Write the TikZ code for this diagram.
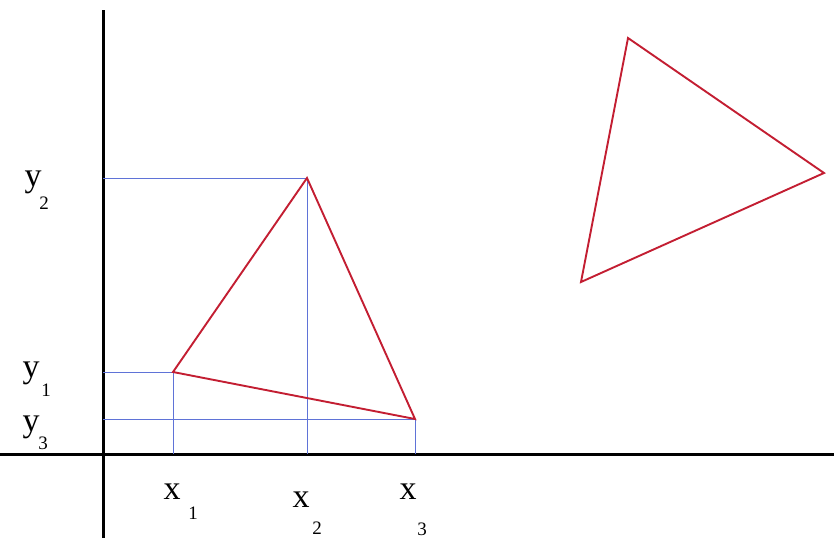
\documentclass[tikz,border=0pt]{standalone}
\usepackage{fontspec}
\setmainfont{Liberation Serif}
\definecolor{tri}{RGB}{195,30,50}
\definecolor{guide}{RGB}{95,115,215}
\tikzset{
  axis/.style={line width=3pt, black},
  guideline/.style={line width=0.9pt, guide},
  triline/.style={line width=1.9pt, tri, line join=miter},
  letter/.style={inner sep=0pt, anchor=base, font=\fontsize{34}{38}\selectfont},
  subs/.style={inner sep=0pt, anchor=base, font=\fontsize{19}{22}\selectfont},
}
\begin{document}
\begin{tikzpicture}[x=1pt, y=-1pt]
\useasboundingbox (0,0) rectangle (834,541);
% axes
\coordinate (xl) at (0,454);
\coordinate (xr) at (834,454);
\coordinate (yt) at (103,10);
\coordinate (yb) at (103,538);
\draw[axis] (xl) -- (xr);
\draw[axis] (yt) -- (yb);
% triangle 1 vertices
\coordinate (A) at (173,372);
\coordinate (B) at (307,178);
\coordinate (C) at (415,419);
% feet on axes
\coordinate (Ay) at (103,372);
\coordinate (By) at (103,178);
\coordinate (Cy) at (103,419);
\coordinate (Ax) at (173,454);
\coordinate (Bx) at (307,454);
\coordinate (Cx) at (415,454);
\draw[guideline] (Ay) -- (A) -- (Ax);
\draw[guideline] (By) -- (B) -- (Bx);
\draw[guideline] (Cy) -- (C) -- (Cx);
\draw[triline] (A) -- (B) -- (C) -- cycle;
% triangle 2
\coordinate (D) at (628,38);
\coordinate (E) at (824,173);
\coordinate (F) at (581,282);
\draw[triline] (D) -- (E) -- (F) -- cycle;
% labels
\node[letter] (lx1) at (172,499) {x};
\node[subs] (sx1) at (193,519) {1};
\node[letter] (lx2) at (301,507) {x};
\node[subs] (sx2) at (317,534) {2};
\node[letter] (lx3) at (408,499) {x};
\node[subs] (sx3) at (422,535) {3};
\node[letter] (ly2) at (33,186) {y};
\node[subs] (sy2) at (44,209) {2};
\node[letter] (ly1) at (31,377) {y};
\node[subs] (sy1) at (46,396) {1};
\node[letter] (ly3) at (31,431) {y};
\node[subs] (sy3) at (43,449) {3};
\end{tikzpicture}
\end{document}
